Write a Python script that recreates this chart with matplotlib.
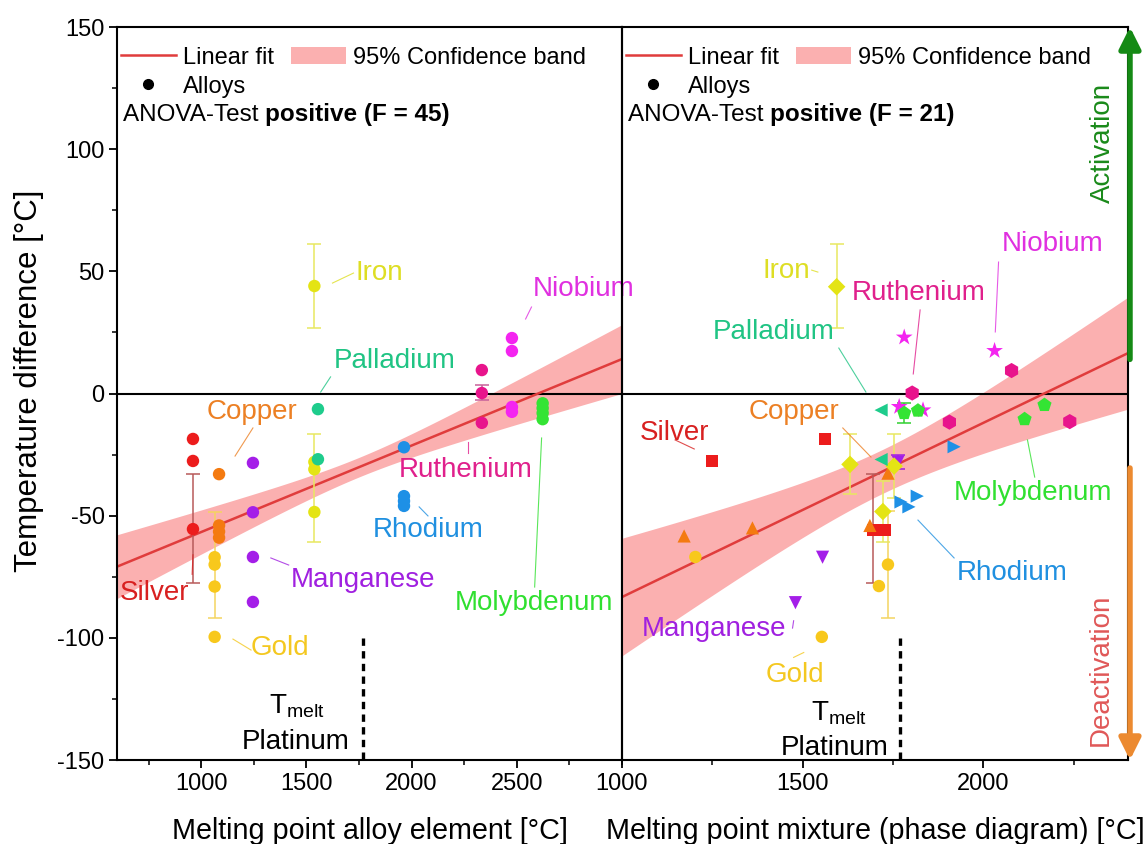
import matplotlib
matplotlib.use("Agg")
import matplotlib.pyplot as plt
from matplotlib.lines import Line2D
from matplotlib.patches import Patch
from matplotlib.ticker import MultipleLocator
import numpy as np

plt.rcParams['font.family'] = ['Liberation Sans', 'DejaVu Sans']
plt.rcParams['mathtext.fontset'] = 'custom'
plt.rcParams['mathtext.rm'] = 'Liberation Sans'
plt.rcParams['mathtext.it'] = 'Liberation Sans'
plt.rcParams['axes.unicode_minus'] = False

# element names, colours (markers / labels) and melting points
elements = ['Silver', 'Copper', 'Gold', 'Manganese', 'Iron',
            'Palladium', 'Rhodium', 'Ruthenium', 'Niobium', 'Molybdenum']
marker_colors = ['#ec1c1c', '#f47a10', '#f8c81c', '#a41ee8', '#e4e414',
                 '#1ecc8c', '#1e90e6', '#e8148c', '#f424f0', '#34e434']
label_colors = ['#d82020', '#ec8024', '#f4c820', '#a020e0', '#dede24',
                '#20c484', '#2090e0', '#e0208c', '#e030e0', '#30e030']
mix_markers = ['s', '^', 'o', 'v', 'D', '<', '>', 'h', '*', 'p']
mix_sizes = [75, 90, 80, 90, 80, 90, 90, 120, 160, 115]
melting_points = [961, 1085, 1064, 1246, 1538, 1555, 1964, 2334, 2477, 2623]

# temperature difference of the alloys [°C]
alloy_dt = [[-18.6, -27.6, -55.5],
            [-33, -54, -56.5, -59],
            [-67, -70, -79, -99.6],
            [-28.4, -48.6, -66.9, -85.3],
            [44, -28, -31, -48.5],
            [-6.4, -26.9],
            [-22, -42, -44, -46],
            [9.6, 0.2, -12],
            [22.7, 17.4, -5.5, -7.5],
            [-4, -6, -8, -10.5]]

# melting point of the mixture (phase diagram) and temperature difference
mix_mp = [[1250, 1561, 1728, 1694],
          [1172, 1361, 1686, 1736],
          [1203, 1553, 1736, 1711],
          [1555, 1480, 1764],
          [1594, 1631, 1753, 1722],
          [1717, 1717],
          [1772, 1794, 1817, 1919],
          [1803, 1906, 2078, 2239],
          [1781, 2031, 1767, 1833],
          [1781, 1819, 2114, 2169]]
mix_dt = [[-27.6, -18.7, -56, -56],
          [-58.3, -55, -54, -32.6],
          [-66.9, -99.6, -70, -78.8],
          [-67, -85.6, -28],
          [43.7, -29, -29.7, -48.3],
          [-6.8, -27],
          [-44.4, -46.4, -42, -21.8],
          [0.2, -11.7, 9.4, -11.5],
          [23, 17.5, -5.4, -6.8],
          [-8, -7, -10.5, -4.7]]

# error bars: (x, y, err, colour)
left_errbars = [(961, -55.3, 22.3, '#b85a5a'), (1064, -70.3, 21.7, '#f4d460'),
                (1538, 44, 17, '#e8e860'), (1538, -38.7, 22, '#e8e860'),
                (2334, 0.5, 3, '#c8609a')]
right_errbars = [(1694, -55.3, 22.3, '#b85a5a'), (1736, -70, 22, '#f4d460'),
                 (1594, 44, 17, '#e8e860'), (1631, -28.7, 12.3, '#e8e860'),
                 (1753, -29.7, 13, '#e8e860'), (1722, -48.4, 12.4, '#e8e860'),
                 (1764, -28, 3, '#a020e0'), (1781, -8, 4, '#30d030')]

# linear fit and 95 % confidence band parameters (left, right)
fit_slope = [0.0354, 0.0713]
fit_intercept = [-92.1, -154.6]
band_min = [4.0, 9.0]
band_growth = [0.0108, 0.031]
band_center = [1750, 1720]
anova_f = [45, 21]
xlims = [(600, 3000), (1000, 2400)]
xticks = [[1000, 1500, 2000, 2500], [1000, 1500, 2000]]
pt_melt = 1768

# label text position and leader line (x0, y0, x1, y1)
left_labels = {
    'Iron': (1733, 49.3, 1624, 45.2, 1724, 49.3),
    'Niobium': (2575, 42.8, 2570, 35.4, 2542, 30.5),
    'Palladium': (1629, 13.3, 1615, 6.8, 1568, 0.6),
    'Copper': (1024, -7.6, 1246, -14.1, 1161, -25.6),
    'Ruthenium': (1937, -31.3, 2268, -19.9, 2268, -24.4),
    'Rhodium': (1814, -55.9, 2036, -46.4, 2078, -50.1),
    'Silver': (612, -81.6, 957, -74, 961, -66),
    'Manganese': (1426, -76.3, 1331, -67.3, 1416, -70.2),
    'Gold': (1237, -104.2, 1151, -100.5, 1237, -105),
    'Molybdenum': (2206, -85.7, 2618, -18.2, 2585, -79.2),
}
right_labels = {
    'Iron': (1389, 50.1, 1525, 50.5, 1542, 49.7),
    'Ruthenium': (1636, 41, 1825, 34.2, 1806, 8),
    'Niobium': (2050, 61.2, 2042, 53.8, 2033, 25.2),
    'Palladium': (1250, 25.2, 1600, 18.6, 1675, 0.6),
    'Copper': (1350, -7.6, 1611, -14.1, 1689, -26),
    'Silver': (1050, -16.2, 1147, -19, 1200, -22.7),
    'Molybdenum': (1919, -40.7, 2122, -19, 2142, -34.2),
    'Rhodium': (1925, -73.5, 1819, -51.8, 1919, -67.3),
    'Manganese': (1056, -96.3, 1472, -96, 1475, -93),
    'Gold': (1397, -115, 1475, -108, 1503, -106),
}
# T_melt / Platinum text positions: (x_T, y_T, x_Pt, y_Pt)
tmelt_pos = [(1322, -128, 1194, -142.5), (1522, -131, 1439, -145)]

fig = plt.figure(figsize=(11.45, 8.44), dpi=100)
ax1 = fig.add_axes([0.1022, 0.0995, 0.441, 0.8685])
ax2 = fig.add_axes([0.5432, 0.0995, 0.4419, 0.8685], sharey=ax1)
ax2.patch.set_alpha(0)
axes = [ax1, ax2]

for i, ax in enumerate(axes):
    xs = np.linspace(*xlims[i], 200)
    fit = fit_slope[i] * xs + fit_intercept[i]
    hw = np.sqrt(band_min[i] ** 2 + (band_growth[i] * (xs - band_center[i])) ** 2)
    ax.fill_between(xs, fit - hw, fit + hw, color='#fbb0b0', lw=0, zorder=1)
    ax.plot(xs, fit, color='#e03c3c', lw=1.8, zorder=2)
    ax.axhline(0, color='black', lw=1.5, zorder=1.5)
    ax.plot([pt_melt, pt_melt], [-100, -150], color='black', lw=2.4,
            ls=(0, (2.2, 1.6)), zorder=2)
    ax.set_xlim(*xlims[i])
    ax.set_ylim(-150, 150)
    ax.set_xticks(xticks[i])
    ax.xaxis.set_minor_locator(MultipleLocator(250))
    ax.yaxis.set_major_locator(MultipleLocator(50))
    ax.yaxis.set_minor_locator(MultipleLocator(25))
    ax.tick_params(which='major', direction='out', length=6, width=1.3,
                   labelsize=17, pad=3)
    ax.tick_params(which='minor', direction='out', length=3.5, width=1.1)
    for sp in ax.spines.values():
        sp.set_linewidth(1.5)

    # T_melt of platinum
    xt, yt, xp, yp = tmelt_pos[i]
    ax.text(xt, yt, r'T$_{\mathrm{melt}}$', fontsize=20, ha='left', va='center')
    ax.text(xp, yp, 'Platinum', fontsize=20, ha='left', va='center')

    # legend and ANOVA result
    handles = [Line2D([], [], color='#e03c3c', lw=1.8),
               Line2D([], [], ls='none', marker='o', color='black', ms=7),
               Patch(facecolor='#fbb0b0', edgecolor='none')]
    ax.legend(handles, ['Linear fit', 'Alloys', '95% Confidence band'], ncol=2,
              loc='upper left', bbox_to_anchor=(0.0, 0.978), frameon=False,
              fontsize=17, handlelength=2.35, handletextpad=0.3,
              columnspacing=0.7, labelspacing=0.3, borderaxespad=0.0,
              borderpad=0.15)
    t = ax.text(0.011, 0.88, 'ANOVA-Test ', transform=ax.transAxes,
                fontsize=17.5, ha='left', va='center')
    ax.annotate(f'positive (F = {anova_f[i]})', xy=(1, 0.5), xycoords=t,
                fontsize=17.5, fontweight='bold', ha='left', va='center')

ax2.tick_params(which='both', left=False, labelleft=False)

# left panel: element melting point
for k, name in enumerate(elements):
    ax1.scatter([melting_points[k]] * len(alloy_dt[k]), alloy_dt[k], s=80,
                color=marker_colors[k], edgecolors='none', zorder=4)
for x, y, e, c in left_errbars:
    ax1.errorbar(x, y, yerr=e, fmt='none', ecolor=c, elinewidth=1.1,
                 capsize=5, capthick=1.1, zorder=3)

# right panel: mixture melting point
for k, name in enumerate(elements):
    ax2.scatter(mix_mp[k], mix_dt[k], s=mix_sizes[k], marker=mix_markers[k],
                color=marker_colors[k], edgecolors='none', zorder=4)
for x, y, e, c in right_errbars:
    ax2.errorbar(x, y, yerr=e, fmt='none', ecolor=c, elinewidth=1.1,
                 capsize=5, capthick=1.1, zorder=3)

for ax, labels in [(ax1, left_labels), (ax2, right_labels)]:
    for name, (lx, ly, x0, y0, x1, y1) in labels.items():
        c = label_colors[elements.index(name)]
        ax.text(lx, ly, name, color=c, fontsize=20, ha='left', va='center',
                zorder=5, clip_on=False)
        ax.plot([x0, x1], [y0, y1], color=c, lw=0.8, alpha=0.8, zorder=3)

ax1.set_ylabel('Temperature difference [°C]', fontsize=22.5)
ax1.yaxis.set_label_coords(-0.145, 0.518)
ax1.set_xlabel('Melting point alloy element [°C]', fontsize=20.7, labelpad=16)
ax2.set_xlabel('Melting point mixture (phase diagram) [°C]', fontsize=20.7,
               labelpad=16)

# activation / deactivation arrows beside the right panel
ax2.annotate('', xy=(1.004, 150), xytext=(1.004, 14),
             xycoords=('axes fraction', 'data'),
             arrowprops=dict(arrowstyle='-|>', color='#158a15', lw=4,
                             mutation_scale=32, shrinkA=0, shrinkB=0),
             annotation_clip=False)
ax2.annotate('', xy=(1.004, -150), xytext=(1.004, -30.5),
             xycoords=('axes fraction', 'data'),
             arrowprops=dict(arrowstyle='-|>', color='#ec8a30', lw=4,
                             mutation_scale=32, shrinkA=0, shrinkB=0),
             annotation_clip=False)
ax2.text(0.951, 102.5, 'Activation', transform=ax2.get_yaxis_transform(),
         rotation=90, color='#1a8a1a', fontsize=20, ha='center', va='center')
ax2.text(0.947, -113, 'Deactivation', transform=ax2.get_yaxis_transform(),
         rotation=90, color='#e05858', fontsize=20, ha='center', va='center')

fig.savefig('out.png', dpi=100)
